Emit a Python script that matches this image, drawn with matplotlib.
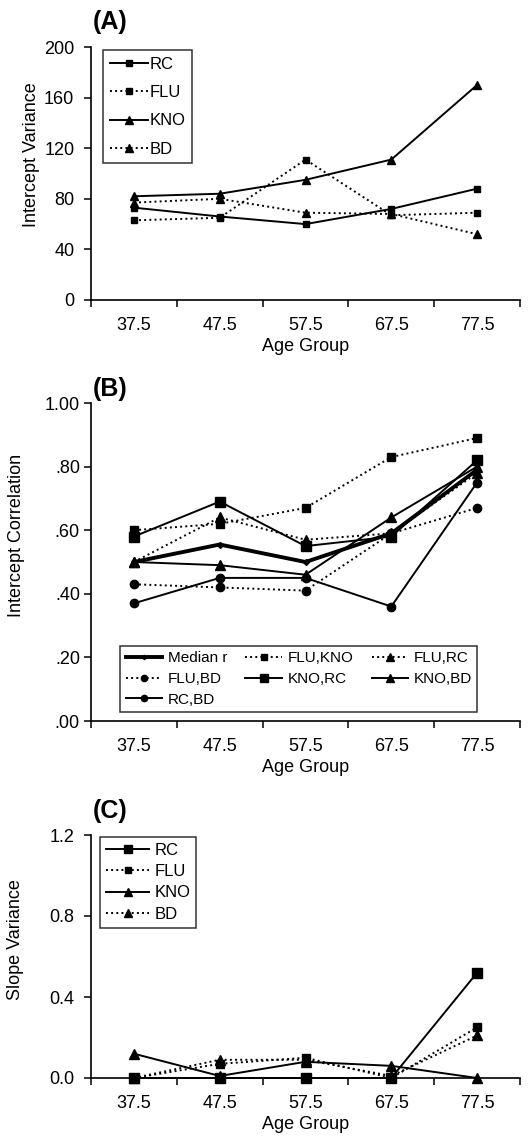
import numpy as np
import matplotlib
matplotlib.use("Agg")
import matplotlib.pyplot as plt
from matplotlib.ticker import FixedLocator

plt.rcParams['font.family'] = ['Liberation Sans', 'DejaVu Sans']

# ---- data ----
age_groups = ["37.5", "47.5", "57.5", "67.5", "77.5"]

# (A) intercept variance
iv_rc = [73, 66, 60, 72, 88]
iv_flu = [63, 65, 111, 67, 69]
iv_kno = [82, 84, 95, 111, 170]
iv_bd = [77, 80, 69, 68, 52]

# (B) intercept correlation
ic_median = [0.50, 0.555, 0.50, 0.59, 0.79]
ic_flu_kno = [0.60, 0.62, 0.67, 0.83, 0.89]
ic_flu_rc = [0.50, 0.64, 0.57, 0.59, 0.78]
ic_flu_bd = [0.43, 0.42, 0.41, 0.59, 0.67]
ic_kno_rc = [0.58, 0.69, 0.55, 0.58, 0.82]
ic_kno_bd = [0.50, 0.49, 0.46, 0.64, 0.80]
ic_rc_bd = [0.37, 0.45, 0.45, 0.36, 0.75]

# (C) slope variance
sv_rc = [0.0, 0.0, 0.0, 0.0, 0.52]
sv_flu = [0.0, 0.07, 0.10, 0.0, 0.25]
sv_kno = [0.12, 0.01, 0.08, 0.06, 0.0]
sv_bd = [0.0, 0.09, 0.09, 0.01, 0.21]

W, H = 532, 1137
fig = plt.figure(figsize=(W / 100, H / 100), dpi=100)

def px_axes(left, top, right, bottom):
    return fig.add_axes([left / W, 1 - bottom / H, (right - left) / W, (bottom - top) / H])

def style_axes(ax, ypad):
    x = np.arange(len(age_groups))
    ax.set_xlim(-0.5, len(age_groups) - 0.5)
    ax.set_xticks(x)
    ax.set_xticklabels(age_groups, fontsize=13)
    ax.tick_params(axis="x", which="major", length=0, pad=12)
    ax.xaxis.set_minor_locator(FixedLocator(np.arange(-0.5, len(age_groups), 1.0)))
    ax.tick_params(axis="x", which="minor", length=5, width=1.1, direction="out")
    ax.tick_params(axis="y", length=5, width=1.1, direction="out", labelsize=13, pad=ypad)
    for s in ["top", "right"]:
        ax.spines[s].set_visible(False)
    for s in ["left", "bottom"]:
        ax.spines[s].set_linewidth(1.2)
    ax.set_xlabel("Age Group", fontsize=13, labelpad=3)
    return x

def panel_letter(text, left_px, bottom_px):
    fig.text(left_px / W, 1 - bottom_px / H, text, fontsize=18, fontweight="bold",
             ha="left", va="bottom")

solid = dict(color="black", linestyle="-", linewidth=1.4)
dotted = dict(color="black", linestyle=":", linewidth=1.4)
legend_style = dict(frameon=True, fancybox=False, edgecolor="black", numpoints=1,
                    borderaxespad=0)

# ---- (A) ----
axA = px_axes(91, 47, 520, 300)
x = style_axes(axA, 7)
axA.plot(x, iv_rc, marker="s", markersize=5, label="RC", **solid)
axA.plot(x, iv_flu, marker="s", markersize=4.5, label="FLU", **dotted)
axA.plot(x, iv_kno, marker="^", markersize=6, label="KNO", **solid)
axA.plot(x, iv_bd, marker="^", markersize=6, label="BD", **dotted)
axA.set_ylim(0, 200)
axA.set_yticks([0, 40, 80, 120, 160, 200])
axA.set_ylabel("Intercept Variance", fontsize=13)
axA.yaxis.set_label_coords(-0.12, 0.573)
legA = axA.legend(loc="upper left", bbox_to_anchor=(0.028, 0.988), fontsize=12,
                  handlelength=2.3, labelspacing=0.8, borderpad=0.4, handletextpad=0.1,
                  **legend_style)
legA.get_frame().set_linewidth(1.1)
panel_letter("(A)", 93, 34)

# ---- (B) ----
axB = px_axes(91, 403, 520, 721)
x = style_axes(axB, 3)
hB = {}
hB["Median r"], = axB.plot(x, ic_median, marker="D", markersize=3, color="black",
                           linestyle="-", linewidth=2.8)
hB["FLU,KNO"], = axB.plot(x, ic_flu_kno, marker="s", markersize=6, **dotted)
hB["FLU,RC"], = axB.plot(x, ic_flu_rc, marker="^", markersize=7, **dotted)
hB["FLU,BD"], = axB.plot(x, ic_flu_bd, marker="o", markersize=6, **dotted)
hB["KNO,RC"], = axB.plot(x, ic_kno_rc, marker="s", markersize=7, **solid)
hB["KNO,BD"], = axB.plot(x, ic_kno_bd, marker="^", markersize=7, **solid)
hB["RC,BD"], = axB.plot(x, ic_rc_bd, marker="o", markersize=6, **solid)
axB.set_ylim(0, 1.0)
axB.set_yticks([0, 0.2, 0.4, 0.6, 0.8, 1.0])
axB.set_yticklabels([".00", ".20", ".40", ".60", ".80", "1.00"])
axB.set_ylabel("Intercept Correlation", fontsize=13)
axB.yaxis.set_label_coords(-0.154, 0.585)
# legend is filled column by column; order so that it reads row by row
order = ["Median r", "FLU,BD", "RC,BD", "FLU,KNO", "KNO,RC", "FLU,RC", "KNO,BD"]
legB = axB.legend([hB[k] for k in order], order, loc="lower left",
                  bbox_to_anchor=(0.068, 0.028), ncol=3, fontsize=11,
                  handlelength=2.4, labelspacing=0.45, borderpad=0.35, handletextpad=0.35,
                  columnspacing=1.2, markerscale=0.75, **legend_style)
legB.get_frame().set_linewidth(1.1)
panel_letter("(B)", 93, 401)

# ---- (C) ----
axC = px_axes(91, 835, 520, 1078)
x = style_axes(axC, 7)
axC.plot(x, sv_rc, marker="s", markersize=6.5, label="RC", **solid)
axC.plot(x, sv_flu, marker="s", markersize=5.5, label="FLU", **dotted)
axC.plot(x, sv_kno, marker="^", markersize=6.5, label="KNO", **solid)
axC.plot(x, sv_bd, marker="^", markersize=6.5, label="BD", **dotted)
axC.set_ylim(0, 1.2)
axC.set_yticks([0, 0.4, 0.8, 1.2])
axC.set_yticklabels(["0.0", "0.4", "0.8", "1.2"])
axC.set_ylabel("Slope Variance", fontsize=13)
axC.yaxis.set_label_coords(-0.156, 0.568)
legC = axC.legend(loc="upper left", bbox_to_anchor=(0.021, 0.992), fontsize=12,
                  handlelength=2.6, labelspacing=0.38, borderpad=0.35, handletextpad=0.3,
                  markerscale=0.85, **legend_style)
legC.get_frame().set_linewidth(1.1)
panel_letter("(C)", 93, 823)

for ax in (axA, axB, axC):
    for line in ax.get_lines():
        line.set_clip_on(False)

fig.savefig("out.png", dpi=100)
